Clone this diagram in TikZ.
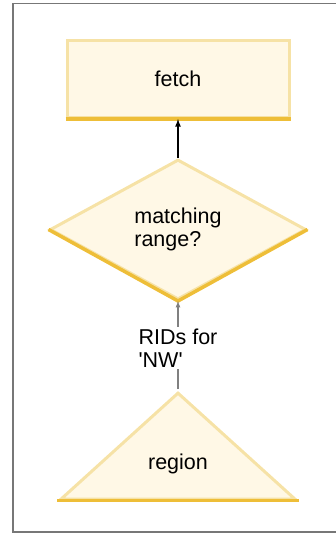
\documentclass[tikz,border=0pt]{standalone}
\usepackage{fontspec}
\setmainfont{Liberation Sans}
\usetikzlibrary{shapes.geometric, positioning}

\definecolor{boxfill}{HTML}{FFF8E6}
\definecolor{boxedge}{HTML}{F6E2A6}
\definecolor{boxbase}{HTML}{EEBE38}
\definecolor{framegray}{HTML}{777777}

\tikzset{
    box/.style={draw=boxedge, fill=boxfill, line width=3pt, inner sep=0pt},
    base/.style={draw=boxbase, line width=3.5pt},
    txt/.style={font=\fontsize{21.5}{23}\selectfont, align=left}
}

\begin{document}
\begin{tikzpicture}[x=1pt, y=-1pt]
        \useasboundingbox (0,0) rectangle (336,535);
        % outer frame
        \draw[framegray, line width=1.6pt] (338,3.5) -- (13,3.5) -- (13,532) -- (338,532);

        \node[box, rectangle, minimum width=222pt, minimum height=77pt, txt] (fetch) at (178,79) {fetch};
        \node[box, diamond, minimum width=256pt, minimum height=140pt, txt] (match) [below=39pt of fetch] {matching\\range?};
        \node[box, isosceles triangle, shape border rotate=90, isosceles triangle stretches,
              minimum width=234pt, minimum height=106pt] (region) at (178,454) {};
        \node[txt] (regtext) at (178,464) {region};
        \node[txt, inner sep=2pt] (rids) at (178,348) {RIDs for\\\textquotesingle NW\textquotesingle};

        % darker bottom edges
        \draw[base] (fetch.south west) -- (fetch.south east);
        \draw[base] (match.west) -- (match.south) -- (match.east);
        \draw[base] (region.left corner) -- (region.right corner);

        \path[-latex] 
        (match) edge[line width=1.6pt] (fetch)
        (rids) edge[draw=gray, line width=1.2pt] (match.south);
        \draw[gray, line width=1.2pt] (region.apex) -- (rids);
    \end{tikzpicture}
\end{document}
